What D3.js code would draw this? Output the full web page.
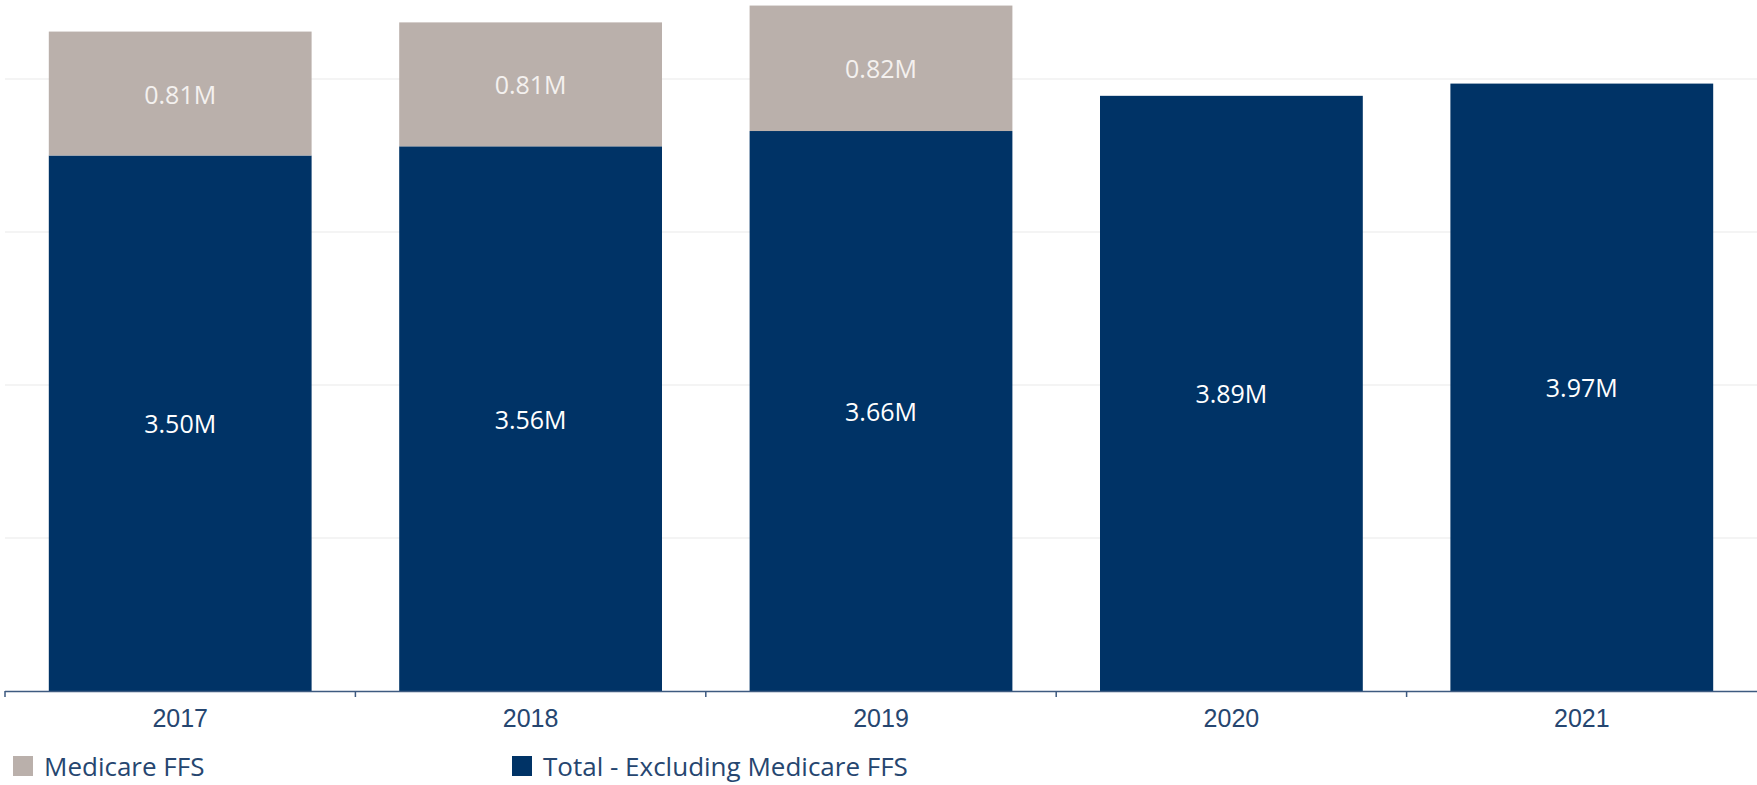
<!DOCTYPE html>
<html>
<head>
<meta charset="utf-8">
<script src="https://cdn.jsdelivr.net/npm/d3@7"></script>
<style>
  html, body { margin: 0; padding: 0; background: #ffffff; }
  svg { display: block; font-family: "Segoe UI", "Open Sans", sans-serif; }
</style>
</head>
<body>
<svg id="chart" width="1757" height="785"></svg>
<script>
// Yearly member counts, in millions
const years = ["2017", "2018", "2019", "2020", "2021"];
const excludingFFS = [3.50, 3.56, 3.66, 3.89, 3.97];
const medicareFFS = [0.81, 0.81, 0.82, null, null];
const gridTicks = [1, 2, 3, 4];
const seriesNames = ["Medicare FFS", "Total - Excluding Medicare FFS"];

const colors = { ffs: "#bab0ab", excl: "#003366", text: "#264670", axis: "#3d5a80", grid: "#f0f0f0" };

const svg = d3.select("#chart");
const x = d3.scaleBand().domain(years).range([5, 1757]).paddingInner(0.25).paddingOuter(0.125);
const y = d3.scaleLinear().domain([0, 4]).range([691, 79]);

// light horizontal gridlines
svg.append("g").selectAll("line").data(gridTicks).join("line")
  .attr("x1", 5).attr("x2", 1757)
  .attr("y1", d => y(d)).attr("y2", d => y(d))
  .attr("stroke", colors.grid).attr("stroke-width", 1.5);

const rows = years.map((yr, i) => ({ year: yr, excl: excludingFFS[i], ffs: medicareFFS[i] }));

// lower segment: total excluding Medicare FFS
svg.append("g").selectAll("rect").data(rows).join("rect")
  .attr("x", d => x(d.year)).attr("width", x.bandwidth())
  .attr("y", d => y(d.excl)).attr("height", d => y(0) - y(d.excl))
  .attr("fill", colors.excl);

// upper segment: Medicare FFS
const ffsRows = rows.filter(d => d.ffs != null);
svg.append("g").selectAll("rect").data(ffsRows).join("rect")
  .attr("x", d => x(d.year)).attr("width", x.bandwidth())
  .attr("y", d => y(d.excl + d.ffs)).attr("height", d => y(d.excl) - y(d.excl + d.ffs))
  .attr("fill", colors.ffs);

const fmt = v => v.toFixed(2) + "M";

// value labels centred in each segment
svg.append("g").selectAll("text").data(rows).join("text")
  .attr("x", d => x(d.year) + x.bandwidth() / 2)
  .attr("y", d => (y(0) + y(d.excl)) / 2)
  .attr("dy", "0.4em").attr("text-anchor", "middle")
  .attr("font-size", 25).attr("fill", "#ffffff")
  .text(d => fmt(d.excl));

svg.append("g").selectAll("text").data(ffsRows).join("text")
  .attr("x", d => x(d.year) + x.bandwidth() / 2)
  .attr("y", d => (y(d.excl) + y(d.excl + d.ffs)) / 2)
  .attr("dy", "0.4em").attr("text-anchor", "middle")
  .attr("font-size", 25).attr("fill", "#f4f1ef")
  .text(d => fmt(d.ffs));

// x axis
const axis = svg.append("g").attr("transform", `translate(0,${y(0)})`)
  .call(d3.axisBottom(x).tickSize(0).tickPadding(0));
axis.select(".domain").remove();
axis.selectAll(".tick text").remove();
axis.append("line").attr("x1", 5).attr("x2", 1757).attr("y1", 0.5).attr("y2", 0.5)
  .attr("stroke", colors.axis).attr("stroke-width", 1.5);
// tick marks sit on band boundaries
const bounds = years.map(yr => x(yr) - x.step() * x.paddingInner() / 2);
axis.selectAll(".bound").data(bounds).join("line").attr("class", "bound")
  .attr("x1", d => d).attr("x2", d => d).attr("y1", 0).attr("y2", 6)
  .attr("stroke", colors.axis).attr("stroke-width", 1.5);
axis.selectAll(".lbl").data(years).join("text").attr("class", "lbl")
  .attr("x", d => x(d) + x.bandwidth() / 2).attr("y", 35.5)
  .attr("text-anchor", "middle").attr("font-size", 25).attr("fill", colors.text)
  .text(d => d);

// legend
const legend = svg.append("g");
const legendX = [13, 512];
const legendColors = [colors.ffs, colors.excl];
seriesNames.forEach((name, i) => {
  legend.append("rect").attr("x", legendX[i]).attr("y", 756).attr("width", 20).attr("height", 20)
    .attr("fill", legendColors[i]);
  legend.append("text").attr("x", legendX[i] + 31).attr("y", 776)
    .attr("font-size", 26).attr("fill", colors.text).text(name);
});
</script>
</body>
</html>
